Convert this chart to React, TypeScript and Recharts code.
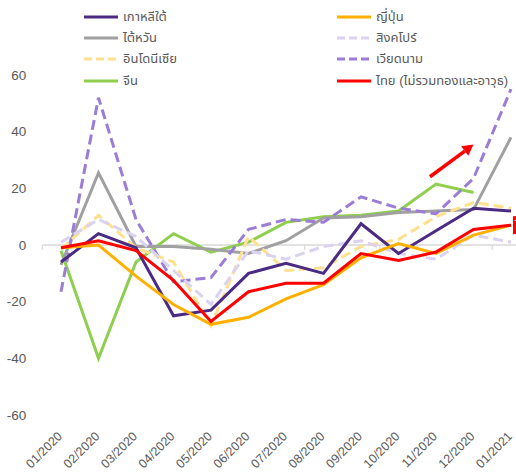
import React from "react";
import {
  LineChart,
  Line,
  XAxis,
  YAxis,
  ReferenceLine,
  LabelList,
} from "recharts";

// export growth (% YoY), 01/2020 - 01/2021
const months = [
  "01/2020", "02/2020", "03/2020", "04/2020", "05/2020", "06/2020", "07/2020",
  "08/2020", "09/2020", "10/2020", "11/2020", "12/2020", "01/2021",
];
const korea = [-6, 4, -1, -25, -23, -10, -6.5, -10, 7.5, -3, 5, 13, 12];
const taiwan = [-7, 25.5, -0.5, -0.5, -1.5, -3, 1.5, 9.5, 10, 11.5, 12, 12.5, 38];
const indonesia = [-1.5, 10.5, -1, -6, -28.5, 3, -9, -8, -0.5, 2, 10, 15, 13];
const china = [-2, -40, -6, 4, -2.5, 1, 8, 10, 10.5, 12, 21.5, 18.5, null];
const japan = [-1, 0, -11, -21, -28, -25.5, -19, -14, -4.5, 0.5, -3, 3.5, 7];
const singapore = [1, 9, 3, -9, -21, -2, -5, -0.5, 1.5, -3, -5, 3.5, 1];
const vietnam = [-16.5, 52, 9, -13, -11.5, 5.5, 9, 8, 17, 13, 11, 23.5, 55];
const thai = [-1, 1.5, -2, -12.5, -27, -16.5, -13.5, -13.5, -3, -5.5, -2.5, 5.5, 7];
const yTicks = [-60, -40, -20, 0, 20, 40, 60];

const series = [
  { key: "korea", name: "เกาหลีใต้", values: korea, color: "#4b2a84", dash: "" },
  { key: "taiwan", name: "ไต้หวัน", values: taiwan, color: "#a0a0a0", dash: "" },
  { key: "indonesia", name: "อินโดนีเซีย", values: indonesia, color: "#ffe08e", dash: "10 5" },
  { key: "china", name: "จีน", values: china, color: "#8fce4e", dash: "" },
  { key: "japan", name: "ญี่ปุ่น", values: japan, color: "#ffb000", dash: "" },
  { key: "singapore", name: "สิงคโปร์", values: singapore, color: "#dbd2f1", dash: "10 5" },
  { key: "vietnam", name: "เวียดนาม", values: vietnam, color: "#9b7dd6", dash: "10 5" },
  { key: "thai", name: "ไทย (ไม่รวมทองและอาวุธ)", values: thai, color: "#ff0000", dash: "" },
];

// drawing order (back to front) as in the picture
const drawOrder = ["china", "taiwan", "vietnam", "indonesia", "singapore", "korea", "japan", "thai"];

const data = months.map((m, i) => {
  const row: Record<string, any> = { month: m };
  series.forEach((s) => (row[s.key] = s.values[i]));
  return row;
});

const FONT = '"Liberation Sans", Arial, "Noto Sans Thai", sans-serif';
const TEXT = "#595959";

function Arrow(p: any) {
  const { x1, y1, x2, y2 } = p;
  const a = Math.atan2(y2 - y1, x2 - x1);
  const len = 11;
  const w = 6;
  const bx = x2 - len * Math.cos(a);
  const by = y2 - len * Math.sin(a);
  const px = -Math.sin(a) * w;
  const py = Math.cos(a) * w;
  return (
    <g>
      <line x1={x1 - 6} y1={y1 + 4} x2={bx} y2={by} stroke="#ff0000" strokeWidth={3.5} />
      <polygon
        points={`${x2},${y2} ${bx + px},${by + py} ${bx - px},${by - py}`}
        fill="#ff0000"
      />
    </g>
  );
}

function ThaiTag(p: any) {
  const { x, y, index } = p;
  if (index !== months.length - 1) return null;
  return (
    <g>
      <rect x={x + 2} y={y - 9} width={44} height={18} fill="#ff0000" />
      <text x={x + 4} y={y + 5} fill="#fff" fontSize={13} fontFamily={FONT}>
        ไทย
      </text>
    </g>
  );
}

function MonthTick(p: any) {
  const { x, y, payload } = p;
  return (
    <g transform={`translate(${x + 2},${y + 22})`}>
      <text
        transform="rotate(-45)"
        textAnchor="end"
        fontSize={12.5}
        fontFamily={FONT}
        fill={TEXT}
      >
        {payload.value}
      </text>
    </g>
  );
}

function Legend() {
  return (
    <div style={{ position: "absolute", left: 0, top: 0, width: 516, height: 95, pointerEvents: "none" }}>
      {series.map((s, i) => {
        const col = Math.floor(i / 4);
        const row = i % 4;
        const left = col === 0 ? 84 : 337;
        const cy = 17 + row * 21.2;
        return (
          <div
            key={s.key}
            style={{
              position: "absolute",
              left,
              top: cy - 10,
              height: 20,
              display: "flex",
              alignItems: "center",
              whiteSpace: "nowrap",
            }}
          >
            <svg width={36} height={6} style={{ marginRight: 3 }}>
              <line
                x1={0}
                y1={3}
                x2={34}
                y2={3}
                stroke={s.color}
                strokeWidth={3}
                strokeDasharray={s.dash ? "8 4" : undefined}
              />
            </svg>
            <span style={{ fontFamily: FONT, fontSize: 13, color: TEXT }}>{s.name}</span>
          </div>
        );
      })}
    </div>
  );
}

export default function App() {
  return (
    <div
      style={{
        position: "absolute",
        left: 0,
        top: 0,
        width: 516,
        height: 475,
        overflow: "hidden",
        background: "#fff",
      }}
    >
      <LineChart
        width={540}
        height={475}
        data={data}
        margin={{ top: 75, right: 10.25, left: 0, bottom: 0 }}
      >
        <XAxis
          dataKey="month"
          scale="band"
          interval={0}
          height={60}
          axisLine={false}
          tickLine={false}
          tickSize={0}
          tickMargin={0}
          tick={<MonthTick />}
        />
        <YAxis
          type="number"
          domain={[-60, 60]}
          ticks={yTicks}
          width={42.25}
          axisLine={false}
          tickLine={false}
          tickSize={0}
          tickMargin={16}
          tick={{ fontSize: 13.5, fontFamily: FONT, fill: TEXT }}
        />
        <ReferenceLine y={0} stroke="#d9d9d9" strokeWidth={1.5} />
        {months.map((m) => (
          <ReferenceLine
            key={"t" + m}
            segment={[{ x: m, y: 0 }, { x: m, y: -1.8 }]}
            position="start"
            stroke="#d9d9d9"
            strokeWidth={1.2}
          />
        ))}
        <ReferenceLine
          segment={[{ x: months[months.length - 1], y: 0 }, { x: months[months.length - 1], y: -1.8 }]}
          position="end"
          stroke="#d9d9d9"
          strokeWidth={1.2}
        />
        {drawOrder.map((k) => {
          const s = series.find((x) => x.key === k)!;
          return (
            <Line
              key={k}
              type="linear"
              dataKey={k}
              name={s.name}
              stroke={s.color}
              strokeWidth={3}
              strokeDasharray={s.dash || undefined}
              dot={false}
              activeDot={false}
              isAnimationActive={false}
            >
              {k === "thai" ? <LabelList dataKey="thai" content={ThaiTag} /> : null}
            </Line>
          );
        })}
        <ReferenceLine
          segment={[{ x: "11/2020", y: 25.5 }, { x: "12/2020", y: 35.5 }]}
          shape={Arrow}
        />
      </LineChart>
      <Legend />
    </div>
  );
}
